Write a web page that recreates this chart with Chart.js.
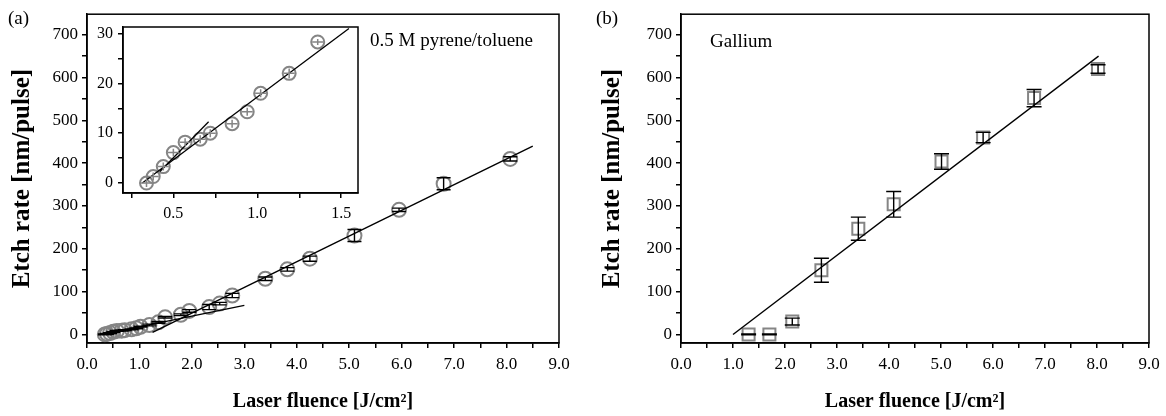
<!DOCTYPE html>
<html>
<head>
<meta charset="utf-8">
<script src="https://cdn.jsdelivr.net/npm/chart.js@4.4.0/dist/chart.umd.min.js"></script>
<style>
  body { margin: 0; width: 1166px; height: 416px; background: #fff; position: relative; overflow: hidden;
         font-family: "Liberation Serif", "Times New Roman", serif; }
  .box { position: absolute; }
  .lbl { position: absolute; font-size: 19px; color: #000; white-space: nowrap; line-height: 1; }
</style>
</head>
<body>
<div class="box" style="left:0;top:0;width:580px;height:416px"><canvas id="chartA"></canvas></div>
<div class="box" style="left:90px;top:10px;width:280px;height:220px"><canvas id="chartInset"></canvas></div>
<div class="box" style="left:590px;top:0;width:576px;height:416px"><canvas id="chartB"></canvas></div>
<div class="lbl" style="left:8px;top:8px">(a)</div>
<div class="lbl" style="left:370px;top:30px">0.5 M pyrene/toluene</div>
<div class="lbl" style="left:596px;top:8px">(b)</div>
<div class="lbl" style="left:710px;top:31px">Gallium</div>
<script>
// --- dados ---

// (a) 0.5 M pireno/tolueno
const pyreneFluence = [0.34, 0.38, 0.44, 0.50, 0.57, 0.66, 0.72, 0.85, 0.94, 1.02, 1.19, 1.36,
                       1.49, 1.79, 1.95, 2.33, 2.53, 2.77, 3.40, 3.82, 4.25, 5.10, 5.95, 6.80, 8.07];
const pyreneRate    = [0, 1.3, 3.3, 6.1, 8.2, 8.8, 10, 11.9, 14.3, 18, 22, 28.3,
                       40, 46, 55, 64, 72, 91, 130, 152, 177, 231, 291, 352, 410];
const pyreneErr     = [1, 1, 1, 1, 1, 1, 1, 1, 1, 1, 2, 2,
                       2, 2, 3, 6, 3, 5, 4, 4, 6, 14, 4, 14, 5];

// inset: primeiros 12 pontos
const insetCount = 12;
const insetErr   = [0.8, 0.8, 0.8, 0.8, 0.8, 0.8, 0.8, 0.8, 0.8, 0.8, 1.0, 0.6];

// retas de ajuste (pontos extremos)
const fitSteepX   = [1.25, 8.5];
const fitSteepY   = [5, 440];
const fitShallowX = [0.3, 3.0];
const fitShallowY = [0, 68];
const insetFitX   = [0.315, 1.546];
const insetFitY   = [0, 31];
const insetShortX = [0.42, 0.71];
const insetShortY = [2.3, 12.3];

// (b) Gálio
const galliumFluence = [1.3, 1.7, 2.14, 2.7, 3.41, 4.09, 5.01, 5.81, 6.79, 8.02];
const galliumRate    = [0, 0, 30, 150, 247, 304, 404, 460, 552, 620];
const galliumErr     = [1, 1, 8, 28, 27, 30, 18, 12, 20, 10];
const galliumFitX    = [1.0, 8.03];
const galliumFitY    = [0, 650];

// eixos
const yMin = -20, yMax = 748;
const xMin = 0, xMax = 9;

const pts = (xs, ys) => xs.map((x, i) => ({ x: x, y: ys[i] }));
const serif = '"Liberation Serif", "Times New Roman", serif';
const gray = '#858585';

// moldura em volta da área do gráfico
const framePlugin = {
    id: 'frame',
    afterDraw(chart, args, opts) {
        const { ctx, chartArea: a } = chart;
        ctx.save();
        ctx.strokeStyle = '#000';
        ctx.lineWidth = opts.width || 1.5;
        ctx.strokeRect(a.left, a.top, a.right - a.left, a.bottom - a.top);
        ctx.restore();
    }
};

// barras de erro
const errorBarPlugin = {
    id: 'errorBars',
    afterDatasetsDraw(chart) {
        const ctx = chart.ctx;
        const xs = chart.scales.x, ys = chart.scales.y;
        chart.data.datasets.forEach(ds => {
            if (!ds.yErr) return;
            ctx.save();
            ctx.strokeStyle = ds.errColor || '#000';
            ctx.lineWidth = ds.errWidth || 1.4;
            ds.data.forEach((p, j) => {
                const e = ds.yErr[j];
                const px = xs.getPixelForValue(p.x);
                const top = ys.getPixelForValue(p.y + e);
                const bot = ys.getPixelForValue(p.y - e);
                const w = (ds.capWidth || 0) / 2;
                ctx.beginPath();
                ctx.moveTo(px, top); ctx.lineTo(px, bot);
                if (w) {
                    ctx.moveTo(px - w, top); ctx.lineTo(px + w, top);
                    ctx.moveTo(px - w, bot); ctx.lineTo(px + w, bot);
                }
                if (ds.crossWidth) {
                    const py = ys.getPixelForValue(p.y);
                    ctx.moveTo(px - ds.crossWidth / 2, py); ctx.lineTo(px + ds.crossWidth / 2, py);
                }
                ctx.stroke();
            });
            ctx.restore();
        });
    }
};

function xAxis(min, max, step, labelStep, size, title, height, tickLen, pad) {
    return {
        type: 'linear', min: min, max: max,
        border: { color: '#000', width: 1.5 },
        grid: { drawOnChartArea: false, drawTicks: true, tickLength: tickLen, color: '#000', lineWidth: 1.5 },
        afterBuildTicks: s => {
            s.ticks = s.ticks.filter(t => Math.abs(t.value / step - Math.round(t.value / step)) < 1e-6);
        },
        ticks: {
            stepSize: step, padding: pad, color: '#000', maxRotation: 0, autoSkip: false, includeBounds: false,
            font: { family: serif, size: size },
            callback: v => Math.abs(v / labelStep - Math.round(v / labelStep)) < 1e-6 ? v.toFixed(1) : ''
        },
        title: title ? { display: true, text: title, color: '#000', padding: { top: 0, bottom: 4 },
                         font: { family: serif, size: 20, weight: 'bold', lineHeight: 1 } } : { display: false },
        afterFit: s => { s.height = height; }
    };
}

function yAxis(min, max, step, labelStep, size, title, width, tickLen, pad) {
    return {
        type: 'linear', min: min, max: max,
        border: { color: '#000', width: 1.5 },
        grid: { drawOnChartArea: false, drawTicks: true, tickLength: tickLen, color: '#000', lineWidth: 1.5 },
        afterBuildTicks: s => {
            s.ticks = s.ticks.filter(t => Math.abs(t.value / step - Math.round(t.value / step)) < 1e-6);
        },
        ticks: {
            stepSize: step, padding: pad, color: '#000', autoSkip: false, includeBounds: false,
            font: { family: serif, size: size },
            callback: v => Math.abs(v / labelStep - Math.round(v / labelStep)) < 1e-6 ? String(Math.round(v)) : ''
        },
        title: title ? { display: true, text: title, color: '#000', padding: { top: 10, bottom: 0 },
                         font: { family: serif, size: 25, weight: 'bold', lineHeight: 1 } } : { display: false },
        afterFit: s => { s.width = width; }
    };
}

function fitLine(xs, ys, width) {
    return { type: 'line', data: pts(xs, ys), borderColor: '#000', borderWidth: width || 1.4,
             pointRadius: 0, showLine: true, fill: false, tension: 0 };
}

const baseOptions = (scales, padding) => ({
    responsive: true,
    maintainAspectRatio: false,
    animation: false,
    events: [],
    layout: { padding: padding },
    plugins: { legend: { display: false }, tooltip: { enabled: false }, frame: { width: 1.5 } },
    scales: scales
});

// --- painel (a) ---
new Chart(document.getElementById('chartA'), {
    type: 'scatter',
    data: {
        datasets: [
            fitLine(fitShallowX, fitShallowY),
            fitLine(fitSteepX, fitSteepY),
            {
                data: pts(pyreneFluence, pyreneRate),
                pointStyle: 'circle', pointRadius: 7, borderColor: gray, borderWidth: 2,
                backgroundColor: 'rgba(0,0,0,0)',
                yErr: pyreneErr, capWidth: 14
            }
        ]
    },
    options: baseOptions({
        x: xAxis(xMin, xMax, 0.5, 1, 17, 'Laser fluence [J/cm²]', 73, 5, 6),
        y: yAxis(yMin, yMax, 50, 100, 17, 'Etch rate [nm/pulse]', 87, 5, 4)
    }, { top: 13, right: 21, left: 0, bottom: 0 }),
    plugins: [framePlugin, errorBarPlugin]
});

// --- inset ---
new Chart(document.getElementById('chartInset'), {
    type: 'scatter',
    data: {
        datasets: [
            fitLine(insetFitX, insetFitY, 1.3),
            fitLine(insetShortX, insetShortY, 1.3),
            {
                data: pts(pyreneFluence.slice(0, insetCount), pyreneRate.slice(0, insetCount)),
                pointStyle: 'circle', pointRadius: 6.5, borderColor: gray, borderWidth: 2,
                backgroundColor: 'rgba(0,0,0,0)',
                yErr: insetErr, crossWidth: 11, errColor: gray, errWidth: 1.5
            }
        ]
    },
    options: baseOptions({
        x: xAxis(0.2, 1.6, 0.25, 0.5, 16, null, 37, 5, 6),
        y: yAxis(-2, 31.3, 5, 10, 16, null, 33, 5, 5)
    }, { top: 17, right: 12, left: 0, bottom: 0 }),
    plugins: [framePlugin, errorBarPlugin]
});

// --- painel (b) ---
new Chart(document.getElementById('chartB'), {
    type: 'scatter',
    data: {
        datasets: [
            fitLine(galliumFitX, galliumFitY),
            {
                data: pts(galliumFluence, galliumRate),
                pointStyle: 'rect', pointRadius: 8.5, borderColor: gray, borderWidth: 2,
                backgroundColor: 'rgba(0,0,0,0)',
                yErr: galliumErr, capWidth: 15
            }
        ]
    },
    options: baseOptions({
        x: xAxis(xMin, xMax, 0.5, 1, 17, 'Laser fluence [J/cm²]', 73, 5, 6),
        y: yAxis(yMin, yMax, 50, 100, 17, 'Etch rate [nm/pulse]', 91, 5, 4)
    }, { top: 13, right: 17, left: 0, bottom: 0 }),
    plugins: [framePlugin, errorBarPlugin]
});
</script>
</body>
</html>
